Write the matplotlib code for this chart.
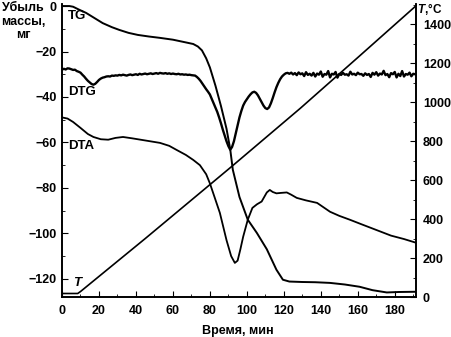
import numpy as np
import matplotlib
matplotlib.use("Agg")
import matplotlib.pyplot as plt
from matplotlib.ticker import MultipleLocator

# TG, мг
tg_t = [0, 4, 6, 9, 13, 17, 22, 27, 31, 36, 41, 47, 53, 60, 67, 71, 73.5, 75.7,
        78, 80, 83, 86, 89, 91, 92.4, 96, 100.5, 105.4, 110.8, 116, 119.5, 123,
        130, 137, 145, 153, 161, 168, 175.7, 182, 191]
tg_v = [0, 0, -0.3, -1.5, -3, -5, -7.5, -9.3, -10.5, -11.8, -12.7, -13.4, -14,
        -14.8, -16, -16.7, -17.8, -19.5, -23, -27, -35, -44, -54, -63, -72, -84,
        -94, -99.8, -107, -116, -120.4, -121.2, -121.4, -121.5, -121.8, -122.5,
        -123.5, -125, -126, -125.8, -125.7]

# DTA (в масштабе левой оси)
dta_t = [0, 3, 6, 10, 14, 17, 21, 25, 29, 33, 38, 44, 53, 58, 62, 67, 71, 74.6,
         78, 80, 82.5, 85.4, 89, 91.5, 93.5, 95, 96.5, 98, 100.5, 103, 105.5, 108,
         110.8, 112.4, 114, 116, 118.5, 121.6, 124, 127, 132, 138, 145, 150,
         155.7, 162, 170, 178, 185, 191]
dta_v = [-49, -49.5, -51, -53.6, -56.3, -57.6, -58.6, -58.8, -58, -57.6, -58.2,
         -59, -60.2, -61.5, -63.3, -65.5, -67.7, -70, -74, -78, -84, -91, -103,
         -110, -113, -112, -107, -101.5, -94, -88.8, -87.2, -86, -82, -80.9,
         -81.8, -82.4, -82.2, -82, -83, -84.4, -85.5, -86.6, -90.5, -92.3, -94,
         -96, -98.5, -101, -102.5, -104]

# DTG, отсчёты через 1 мин (t = 0..191)
dtg_v = [
    -28.0, -27.6, -27.9, -27.4, -27.5, -27.8, -28.1, -28.0, -28.6, -28.9,
    -29.3, -30.2, -31.0, -32.0, -32.9, -33.6, -34.3, -34.6, -34.2, -33.4,
    -32.5, -31.9, -31.5, -31.3, -31.0, -30.9, -31.0, -30.6, -30.7, -30.5,
    -30.6, -30.3, -30.5, -30.2, -30.4, -30.6, -30.3, -30.1, -30.4, -30.2,
    -30.0, -30.3, -29.8, -30.1, -29.9, -29.7, -30.0, -29.8, -29.6, -29.9,
    -29.7, -29.5, -29.8, -29.4, -29.6, -29.7, -29.5, -29.8, -29.6, -29.9,
    -29.7, -29.9, -30.0, -29.8, -30.1, -30.0, -30.2, -30.1, -30.3, -30.2,
    -30.4, -30.5, -30.6, -31.2, -32.0, -33.0, -34.2, -35.4, -36.6, -37.7,
    -38.9, -40.8, -42.8, -44.6, -46.6, -49.0, -51.6, -54.4, -57.0, -59.5,
    -61.6, -63.2, -62.0, -59.5, -56.0, -52.5, -49.0, -46.2, -43.8, -42.2,
    -41.0, -39.8, -38.8, -38.0, -37.7, -38.2, -39.3, -40.8, -42.4, -43.8,
    -44.9, -45.3, -44.6, -42.8, -40.5, -38.0, -35.7, -33.8, -32.2, -31.0,
    -30.2, -29.6, -29.4, -29.8, -29.3, -30.1, -29.5, -30.4, -29.2, -30.0,
    -29.6, -30.8, -29.1, -30.3, -29.8, -30.6, -29.4, -31.0, -29.7, -30.2,
    -28.8, -31.1, -29.9, -30.2, -28.6, -31.4, -29.8, -30.1, -29.0, -31.5,
    -29.9, -30.3, -29.4, -30.2, -30.0, -30.6, -28.9, -30.1, -29.8, -30.4,
    -29.3, -30.0, -29.9, -30.7, -29.6, -30.3, -29.9, -31.2, -29.4, -30.2,
    -29.1, -30.6, -29.7, -30.1, -28.5, -30.4, -29.9, -31.3, -29.5, -30.0,
    -29.0, -31.4, -29.8, -30.8, -28.6, -31.0, -29.9, -30.2, -29.3, -30.9,
    -29.8, -30.0,
]
dtg_t = np.arange(len(dtg_v))

# T, °C (правая ось)
temp_t = [0, 8.5, 10, 45, 92, 129, 160, 192]
temp_v = [18, 18, 28, 300, 672, 970, 1230, 1500]

plt.rcParams["font.family"] = ["Liberation Sans", "DejaVu Sans"]
plt.rcParams["font.weight"] = "bold"
plt.rcParams["mathtext.fontset"] = "custom"
plt.rcParams["mathtext.it"] = "Liberation Sans:italic:bold"
plt.rcParams["mathtext.rm"] = "Liberation Sans:bold"

fig = plt.figure(figsize=(4.51, 3.37), dpi=100)
fig.patch.set_facecolor("white")
ax = fig.add_axes([62 / 451, 1 - 297 / 337, 354 / 451, 293 / 337])
ax2 = ax.twinx()

ax.plot(tg_t, tg_v, color="black", lw=1.4)
ax.plot(dtg_t, dtg_v, color="black", lw=1.7)
ax.plot(dta_t, dta_v, color="black", lw=1.3)
ax2.plot(temp_t, temp_v, color="black", lw=1.2)

ax.set_xlim(0, 191.5)
ax.set_ylim(-128, 0.9)
ax2.set_ylim(0, 1505)

ax.xaxis.set_major_locator(MultipleLocator(20))
ax.xaxis.set_minor_locator(MultipleLocator(10))
ax.yaxis.set_major_locator(MultipleLocator(20))
ax.yaxis.set_minor_locator(MultipleLocator(10))
ax2.yaxis.set_major_locator(MultipleLocator(200))
ax2.yaxis.set_minor_locator(MultipleLocator(100))

ax.tick_params(which="both", direction="in", top=False, right=False, labelsize=9)
ax.tick_params(which="major", length=4)
ax.tick_params(which="minor", length=2)
ax.tick_params(axis="x", pad=6)
ax.tick_params(axis="y", pad=4)
ax2.tick_params(which="both", direction="in", labelsize=9, pad=5)
ax2.tick_params(which="major", length=4)
ax2.tick_params(which="minor", length=2)

for a in (ax, ax2):
    a.spines["top"].set_visible(False)
    for s in ("left", "right", "bottom"):
        a.spines[s].set_linewidth(1.2)

# подписи кривых
ax.text(3.2, -4.4, "TG", fontsize=9.5, va="center", ha="left")
ax.text(3.2, -37.6, "DTG", fontsize=9.5, va="center", ha="left")
ax.text(3.2, -61.5, "DTA", fontsize=9.5, va="center", ha="left")
ax.text(6, -121.5, "$T$", fontsize=9.5, va="center", ha="left")

fig.text(238 / 451, 1 - 331 / 337, "Время, мин", fontsize=9, ha="center", va="center")
fig.text(23 / 451, 1 - 8 / 337, "Убыль", fontsize=9, ha="center", va="center")
fig.text(23 / 451, 1 - 22 / 337, "массы,", fontsize=9, ha="center", va="center")
fig.text(23 / 451, 1 - 35 / 337, "мг", fontsize=9, ha="center", va="center")
fig.text(417 / 451, 1 - 1 / 337, "$T$,°C", fontsize=8.5, ha="left", va="top")

fig.savefig("out.png", dpi=100)
